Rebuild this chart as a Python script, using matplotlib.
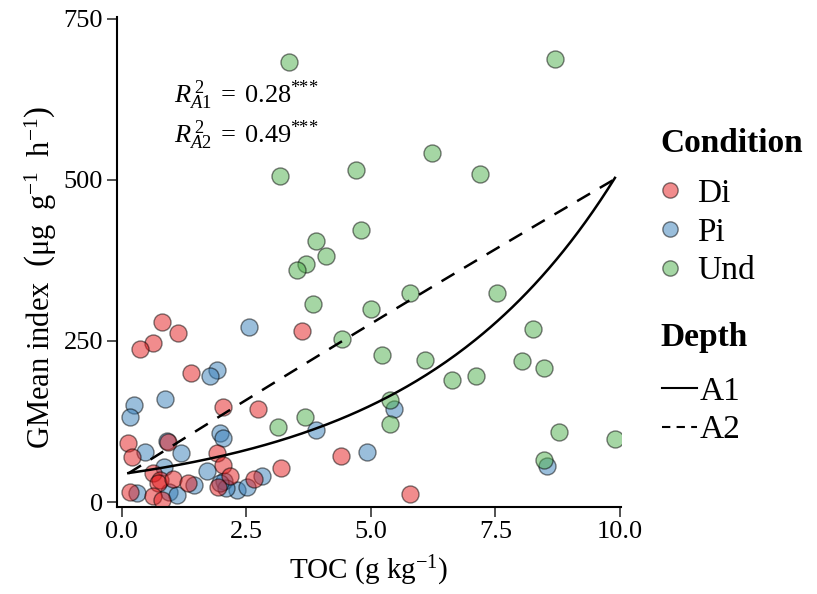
import numpy as np
import matplotlib
matplotlib.use("Agg")
import matplotlib.pyplot as plt
from matplotlib.lines import Line2D

plt.rcParams['font.family'] = ['Liberation Serif', 'DejaVu Serif']
plt.rcParams['mathtext.fontset'] = 'custom'
plt.rcParams['mathtext.rm'] = 'Liberation Serif'
plt.rcParams['mathtext.it'] = 'Liberation Serif:italic'
plt.rcParams['mathtext.bf'] = 'Liberation Serif:bold'

# data
di_x = [0.81, 1.12, 0.63, 0.36, 1.39, 3.61, 2.03, 2.74, 0.13, 0.21, 0.92, 1.91, 2.03, 0.63,
        0.76, 0.73, 1.03, 1.32, 2.17, 1.93, 2.66, 0.17, 0.63, 0.80, 3.19, 4.40, 5.78]
di_y = [280, 262, 246, 237, 201, 266, 148, 144, 91, 70, 94, 76, 57, 45,
        35, 29, 36, 30, 40, 24, 36, 16, 9, 4, 53, 72, 13]

pi_x = [2.56, 1.91, 1.77, 0.25, 0.16, 0.87, 1.98, 2.03, 1.18, 0.46, 0.85, 1.71, 2.05, 2.32,
        2.52, 2.82, 0.95, 1.10, 0.31, 2.10, 1.45, 1.97, 5.47, 3.90, 4.93, 8.54, 0.90]
pi_y = [272, 205, 195, 151, 132, 160, 107, 99, 76, 78, 54, 49, 33, 19,
        23, 41, 16, 11, 14, 22, 27, 29, 144, 112, 78, 56, 95]

und_x = [3.35, 8.69, 6.23, 4.70, 3.17, 7.19, 4.80, 3.89, 4.10, 3.69, 3.52, 3.84, 5.00, 5.78,
         7.54, 4.43, 5.23, 6.08, 6.62, 7.12, 3.67, 3.14, 5.38, 5.38, 8.25, 8.04, 8.47, 8.77,
         9.90, 8.47]
und_y = [683, 687, 542, 515, 506, 509, 422, 405, 381, 370, 360, 307, 300, 324,
         324, 253, 228, 221, 190, 196, 132, 117, 159, 121, 269, 219, 208, 108,
         98, 65]

# fitted curves (A1 exponential, A2 quadratic)
a1_coef = [43.6, 0.247]
a2_coef = [38.2, 48.65, -0.192]
r2_labels = [r'$R^{\,2}_{A1}\;=\;0.28^{*\!\!*\!\!*}$', r'$R^{\,2}_{A2}\;=\;0.49^{*\!\!*\!\!*}$']

fig = plt.figure(figsize=(8.17, 5.94), dpi=100)
ax = fig.add_axes([0.143, 0.146, 0.617, 0.825])

ax.scatter(pi_x, pi_y, s=150, c='#377EB8', edgecolors='black', linewidths=1, alpha=0.5, zorder=2)
ax.scatter(di_x, di_y, s=150, c='#E41A1C', edgecolors='black', linewidths=1, alpha=0.5, zorder=2)
ax.scatter(und_x, und_y, s=150, c='#4DAF4A', edgecolors='black', linewidths=1, alpha=0.5, zorder=2)

all_x = di_x + pi_x + und_x
xs = np.linspace(min(all_x), max(all_x), 200)
ax.plot(xs, a1_coef[0] * np.exp(a1_coef[1] * xs), color='black', lw=1.8, zorder=3)
ax.plot(xs, a2_coef[0] + a2_coef[1] * xs + a2_coef[2] * xs ** 2, color='black', lw=1.8,
        ls=(0, (6, 4.5)), zorder=3)

ax.text(1.05, 631, r2_labels[0], fontsize=19, va='center', ha='left')
ax.text(1.05, 569, r2_labels[1], fontsize=19, va='center', ha='left')

ax.set_xlim(-0.1, 10.02)
ax.set_ylim(-8, 752)
ax.set_xticks([0, 2.5, 5, 7.5, 10])
ax.set_xticklabels(['0.0', '2.5', '5.0', '7.5', '10.0'])
ax.set_yticks([0, 250, 500, 750])
for s in ['top', 'right']:
    ax.spines[s].set_visible(False)
for s in ['left', 'bottom']:
    ax.spines[s].set_linewidth(1.5)
ax.tick_params(direction='out', length=7, width=1.2, color='#333333', labelsize=19, labelcolor='black', pad=3)

ax.set_xlabel('TOC (g kg$^{-1}$)', fontsize=21, labelpad=8)
ax.set_ylabel(r'GMean index  $\left(\mathrm{μg\ \ g^{-1}\ \ h^{-1}}\right)$', fontsize=22)
ax.yaxis.set_label_coords(-0.115, 0.47)

# legends: titles drawn as text, entries as title-less legends
fig.text(0.808, 0.759, 'Condition', fontsize=24, fontweight='bold', ha='left', va='center')
fig.text(0.808, 0.431, 'Depth', fontsize=24, fontweight='bold', ha='left', va='center')

cond_handles = [Line2D([], [], marker='o', ls='', ms=11, mfc=c, mec='black', alpha=0.5)
                for c in ['#E41A1C', '#377EB8', '#4DAF4A']]
leg1 = ax.legend(cond_handles, ['Di', 'Pi', 'Und'], loc='upper left',
                 bbox_to_anchor=(0.804, 0.70), bbox_transform=fig.transFigure, frameon=False,
                 fontsize=24, borderpad=0, borderaxespad=0,
                 handletextpad=0.4, labelspacing=0.25, handlelength=0.8)
ax.add_artist(leg1)
depth_handles = [Line2D([], [], color='black', lw=1.5),
                 Line2D([], [], color='black', lw=1.5, ls=(0, (4, 3)))]
ax.legend(depth_handles, ['A1', 'A2'], loc='upper left',
          bbox_to_anchor=(0.810, 0.367), bbox_transform=fig.transFigure, frameon=False,
          fontsize=24, borderpad=0, borderaxespad=0,
          handletextpad=0.1, labelspacing=0.25, handlelength=1.05)

fig.savefig('out.png', dpi=100)
